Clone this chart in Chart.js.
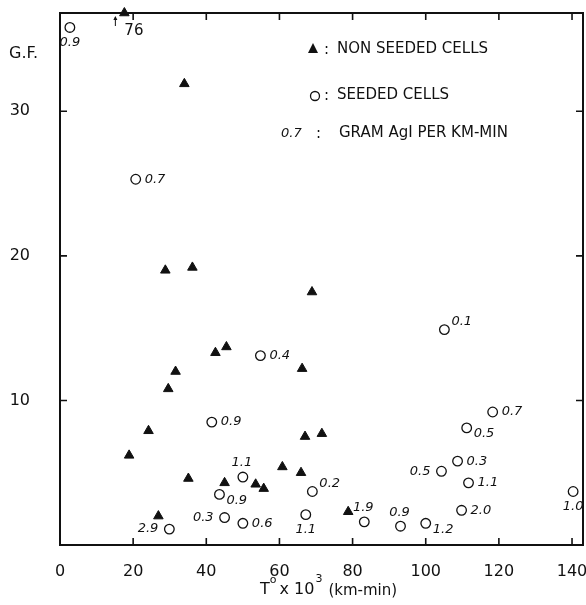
<!DOCTYPE html>
<html>
<head>
<meta charset="utf-8">
<script src="https://cdn.jsdelivr.net/npm/chart.js@4"></script>
<style>
  html, body { margin: 0; padding: 0; background: #fff; }
  #gf-chart { display: block; }
</style>
</head>
<body>
<canvas id="gf-chart" width="586" height="605"></canvas>
<script>
// ── Data ─────────────────────────────────────────────────────

const xTicks = [0, 20, 40, 60, 80, 100, 120, 140];
const yTicks = [10, 20, 30];

// non seeded cells (▲)
const nonSeededT  = [17.6, 34.0, 28.8, 36.2, 42.5, 45.5, 31.6, 29.6, 68.9, 66.2, 18.9,
                     24.2, 35.1, 45.0, 53.5, 55.7, 60.8, 26.9, 67.0, 71.6, 65.9, 78.8];
const nonSeededGF = [76, 31.9, 19.0, 19.2, 13.3, 13.7, 12.0, 10.8, 17.5, 12.2, 6.2,
                     7.9, 4.6, 4.3, 4.2, 3.9, 5.4, 2.0, 7.5, 7.7, 5.0, 2.3];

// seeded cells (○) with gram AgI per km-min
const seededT    = [2.7, 20.7, 54.8, 105.1, 41.5, 50.0, 43.6, 45.0, 50.0, 29.9, 69.0,
                    67.2, 83.2, 93.1, 100.0, 104.3, 108.7, 111.7, 109.8, 111.2, 118.3, 140.3];
const seededGF   = [35.8, 25.3, 13.1, 14.9, 8.5, 4.7, 3.5, 1.9, 1.5, 1.1, 3.7,
                    2.1, 1.6, 1.3, 1.5, 5.1, 5.8, 4.3, 2.4, 8.1, 9.2, 3.7];
const seededDose = ['0.9', '0.7', '0.4', '0.1', '0.9', '1.1', '0.9', '0.3', '0.6', '2.9', '0.2',
                    '1.1', '1.9', '0.9', '1.2', '0.5', '0.3', '1.1', '2.0', '0.5', '0.7', '1.0'];
// where the dose label sits relative to its circle
const doseSide   = ['b', 'r', 'r', 'tr', 'r', 't', 'rb', 'l', 'r', 'l', 'tr',
                    'b', 't', 't', 'rb', 'l', 'r', 'r', 'r', 'rb', 'r', 'b'];

const Y_MAX = 36.8;
const X_MAX = 143;

// ── Styling ───────────────────────────────────────────────────

const FONT = '"DejaVu Sans", sans-serif';
const INK  = '#111';

const SIDE_OFFSETS = {
  r:  { dx: 9,  dy: 0,   align: 'left' },
  l:  { dx: -11, dy: 0,  align: 'right' },
  t:  { dx: -1, dy: -14, align: 'center' },
  b:  { dx: 0,  dy: 15,  align: 'center' },
  tr: { dx: 7,  dy: -8,  align: 'left' },
  rb: { dx: 7,  dy: 6,   align: 'left' },
};

function fixBox(size) {
  return s => {
    if (s.isHorizontal()) s.height = size; else s.width = size;
    s.paddingTop = s.paddingBottom = s.paddingLeft = s.paddingRight = 0;
  };
}

// ── Plugins ───────────────────────────────────────────────────

const frameAndText = {
  id: 'frameAndText',
  afterDatasetsDraw(chart) {
    const { ctx, chartArea: a, scales } = chart;
    const tick = 7;
    ctx.save();
    ctx.strokeStyle = INK;
    ctx.lineWidth = 2;
    ctx.strokeRect(a.left, a.top, a.right - a.left, a.bottom - a.top);

    ctx.lineWidth = 1.6;
    ctx.beginPath();
    xTicks.forEach(v => {
      const px = scales.x.getPixelForValue(v);
      ctx.moveTo(px, a.bottom); ctx.lineTo(px, a.bottom - tick);
      ctx.moveTo(px, a.top);    ctx.lineTo(px, a.top + tick);
    });
    yTicks.forEach(v => {
      const py = scales.y.getPixelForValue(v);
      ctx.moveTo(a.left, py);  ctx.lineTo(a.left + tick, py);
      ctx.moveTo(a.right, py); ctx.lineTo(a.right - tick, py);
    });
    ctx.stroke();

    // dose labels
    const seeded = chart.getDatasetMeta(1).data;
    ctx.fillStyle = INK;
    ctx.font = 'italic 13px ' + FONT;
    ctx.textBaseline = 'middle';
    seeded.forEach((pt, i) => {
      const o = SIDE_OFFSETS[doseSide[i]];
      ctx.textAlign = o.align;
      ctx.fillText(seededDose[i], pt.x + o.dx, pt.y + o.dy);
    });

    // off-scale point: arrow + value
    const top = chart.getDatasetMeta(0).data[0];
    ctx.lineWidth = 1;
    ctx.beginPath();
    ctx.moveTo(top.x - 9, top.y + 13); ctx.lineTo(top.x - 9, top.y + 4);
    ctx.stroke();
    ctx.beginPath();
    ctx.moveTo(top.x - 9, top.y + 3);
    ctx.lineTo(top.x - 11, top.y + 7);
    ctx.lineTo(top.x - 7, top.y + 7);
    ctx.closePath();
    ctx.fill();
    ctx.font = '15px ' + FONT;
    ctx.textAlign = 'left';
    ctx.fillText(nonSeededGF[0], top.x, top.y + 18);

    // legend
    ctx.font = '15px ' + FONT;
    ctx.textAlign = 'left';
    ctx.beginPath();
    ctx.moveTo(313, 43); ctx.lineTo(318, 53); ctx.lineTo(308, 53);
    ctx.closePath(); ctx.fill();
    ctx.fillText(':', 324, 50);
    ctx.fillText('NON SEEDED CELLS', 337, 49);

    ctx.lineWidth = 1.3;
    ctx.beginPath(); ctx.arc(315, 96, 4.5, 0, Math.PI * 2); ctx.stroke();
    ctx.fillText(':', 324, 96);
    ctx.fillText('SEEDED CELLS', 337, 95);

    ctx.font = 'italic 13px ' + FONT;
    ctx.fillText('0.7', 281, 134);
    ctx.font = '15px ' + FONT;
    ctx.fillText(':', 316, 134);
    ctx.fillText('GRAM AgI PER KM-MIN', 339, 133);

    // axis titles
    ctx.font = '16px ' + FONT;
    ctx.fillText('G.F.', 9, 54);

    let x = 260;
    const y = 590;
    ctx.font = '16px ' + FONT;
    ctx.fillText('T', x, y); x += ctx.measureText('T').width;
    ctx.font = '11px ' + FONT;
    ctx.fillText('o', x, y - 10); x += ctx.measureText('o').width + 3;
    ctx.font = '16px ' + FONT;
    ctx.fillText('x 10', x, y); x += ctx.measureText('x 10').width + 1;
    ctx.font = '11px ' + FONT;
    ctx.fillText('3', x, y - 11); x += ctx.measureText('3').width + 6;
    ctx.font = '15px ' + FONT;
    ctx.fillText('(km-min)', x, y + 1);
    ctx.restore();
  },
};

// ── Chart ─────────────────────────────────────────────────────

new Chart(document.getElementById('gf-chart'), {
  type: 'scatter',
  data: {
    datasets: [
      {
        label: 'NON SEEDED CELLS',
        data: nonSeededT.map((t, i) => ({ x: t, y: Math.min(nonSeededGF[i], Y_MAX) })),
        pointStyle: 'triangle',
        pointRadius: 5.5,
        backgroundColor: INK,
        borderColor: INK,
        borderWidth: 1,
        clip: false,
      },
      {
        label: 'SEEDED CELLS',
        data: seededT.map((t, i) => ({ x: t, y: seededGF[i] })),
        pointStyle: 'circle',
        pointRadius: 4.8,
        backgroundColor: '#fff',
        borderColor: INK,
        borderWidth: 1.3,
        clip: false,
      },
    ],
  },
  options: {
    responsive: false,
    animation: false,
    layout: { autoPadding: false, padding: { top: 13, right: 3, left: 0, bottom: 0 } },
    plugins: { legend: { display: false }, tooltip: { enabled: false } },
    scales: {
      x: {
        type: 'linear',
        min: 0,
        max: X_MAX,
        grid: { display: false },
        border: { display: false },
        afterBuildTicks: s => { s.ticks = xTicks.map(v => ({ value: v })); },
        afterFit: fixBox(60),
        ticks: { color: INK, padding: 9, font: { family: FONT, size: 16 }, maxRotation: 0 },
      },
      y: {
        type: 'linear',
        min: 0,
        max: Y_MAX,
        grid: { display: false },
        border: { display: false },
        afterBuildTicks: s => { s.ticks = yTicks.map(v => ({ value: v })); },
        afterFit: fixBox(60),
        ticks: { color: INK, padding: 22, font: { family: FONT, size: 16 } },
      },
    },
  },
  plugins: [frameAndText],
});
</script>
</body>
</html>
